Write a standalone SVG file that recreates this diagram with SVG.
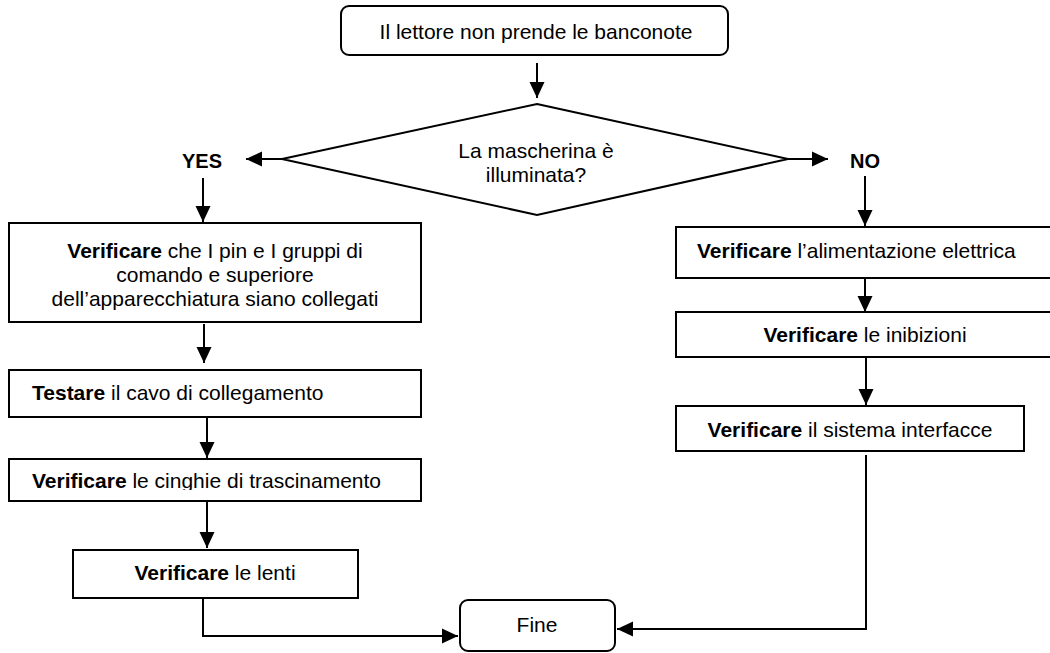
<svg xmlns="http://www.w3.org/2000/svg" width="1050" height="653" viewBox="0 0 1050 653">
<style>
.box{fill:#fff;stroke:#000;stroke-width:2}
.t{font-family:"Liberation Sans",Arial,sans-serif;font-size:21px;fill:#000}
.c{text-anchor:middle}
.b{font-weight:bold}
.lab{font-family:"Liberation Sans",Arial,sans-serif;font-size:20px;font-weight:bold;fill:#000;text-anchor:middle}
.ln{fill:none;stroke:#000;stroke-width:2}
</style>
<defs>
<marker id="ah" markerUnits="userSpaceOnUse" markerWidth="18" markerHeight="18" viewBox="0 0 18 18" refX="16" refY="9" orient="auto">
<path d="M0,1.5 L16,9 L0,16.5 Z" fill="#000"/>
</marker>
<clipPath id="clipC"><rect x="0" y="459" width="430" height="31"/></clipPath>
</defs>
<rect width="1050" height="653" fill="#fff"/>

<g id="connectors">
<line class="ln" x1="537" y1="63" x2="537" y2="98" marker-end="url(#ah)"/>
<line class="ln" x1="282" y1="159" x2="246" y2="159" marker-end="url(#ah)"/>
<line class="ln" x1="788" y1="159" x2="828" y2="159" marker-end="url(#ah)"/>
<line class="ln" x1="203" y1="178" x2="203" y2="222" marker-end="url(#ah)"/>
<line class="ln" x1="865" y1="176" x2="865" y2="226" marker-end="url(#ah)"/>
<line class="ln" x1="865" y1="278" x2="865" y2="312" marker-end="url(#ah)"/>
<line class="ln" x1="866" y1="357" x2="866" y2="405" marker-end="url(#ah)"/>
<polyline class="ln" points="866,455 866,629 617,629" marker-end="url(#ah)"/>
<line class="ln" x1="204" y1="324" x2="204" y2="363" marker-end="url(#ah)"/>
<line class="ln" x1="207" y1="413" x2="207" y2="458" marker-end="url(#ah)"/>
<line class="ln" x1="207" y1="501" x2="207" y2="548" marker-end="url(#ah)"/>
<polyline class="ln" points="203,599 203,636 458,636" marker-end="url(#ah)"/>
</g>

<g id="labels">
<text class="lab" x="202" y="168">YES</text>
<text class="lab" x="865" y="168">NO</text>
</g>

<g id="start">
<rect class="box" x="341" y="6" width="387" height="49" rx="8"/>
<text class="t c" x="536" y="39">Il lettore non prende le banconote</text>
</g>

<g id="decision">
<polygon class="box" points="537,104 788,159 537,215 282,159"/>
<text class="t c" x="536" y="158">La mascherina è</text>
<text class="t c" x="536" y="182">illuminata?</text>
</g>

<g id="yes1">
<rect class="box" x="9" y="223" width="412" height="99"/>
<text class="t c" x="215" y="258"><tspan class="b">Verificare</tspan> che I pin e I gruppi di</text>
<text class="t c" x="215" y="282">comando e superiore</text>
<text class="t c" x="215" y="306">dell’apparecchiatura siano collegati</text>
</g>

<g id="yes2">
<rect class="box" x="9" y="370" width="412" height="47"/>
<text class="t" x="32" y="400"><tspan class="b">Testare</tspan> il cavo di collegamento</text>
</g>

<g id="yes3">
<rect class="box" x="9" y="459" width="412" height="42"/>
<text class="t" x="32" y="488" clip-path="url(#clipC)"><tspan class="b">Verificare</tspan> le cinghie di trascinamento</text>
</g>

<g id="yes4">
<rect class="box" x="73" y="550" width="285" height="48"/>
<text class="t c" x="215" y="580"><tspan class="b">Verificare</tspan> le lenti</text>
</g>

<g id="no1">
<rect class="box" x="676" y="227" width="380" height="51"/>
<text class="t" x="697" y="258"><tspan class="b">Verificare</tspan> l’alimentazione elettrica</text>
</g>

<g id="no2">
<rect class="box" x="676" y="312" width="380" height="45"/>
<text class="t c" x="865" y="342"><tspan class="b">Verificare</tspan> le inibizioni</text>
</g>

<g id="no3">
<rect class="box" x="676" y="406" width="348" height="45"/>
<text class="t c" x="850" y="437"><tspan class="b">Verificare</tspan> il sistema interfacce</text>
</g>

<g id="end">
<rect class="box" x="460" y="600" width="155" height="51" rx="8"/>
<text class="t c" x="537" y="632">Fine</text>
</g>
</svg>
